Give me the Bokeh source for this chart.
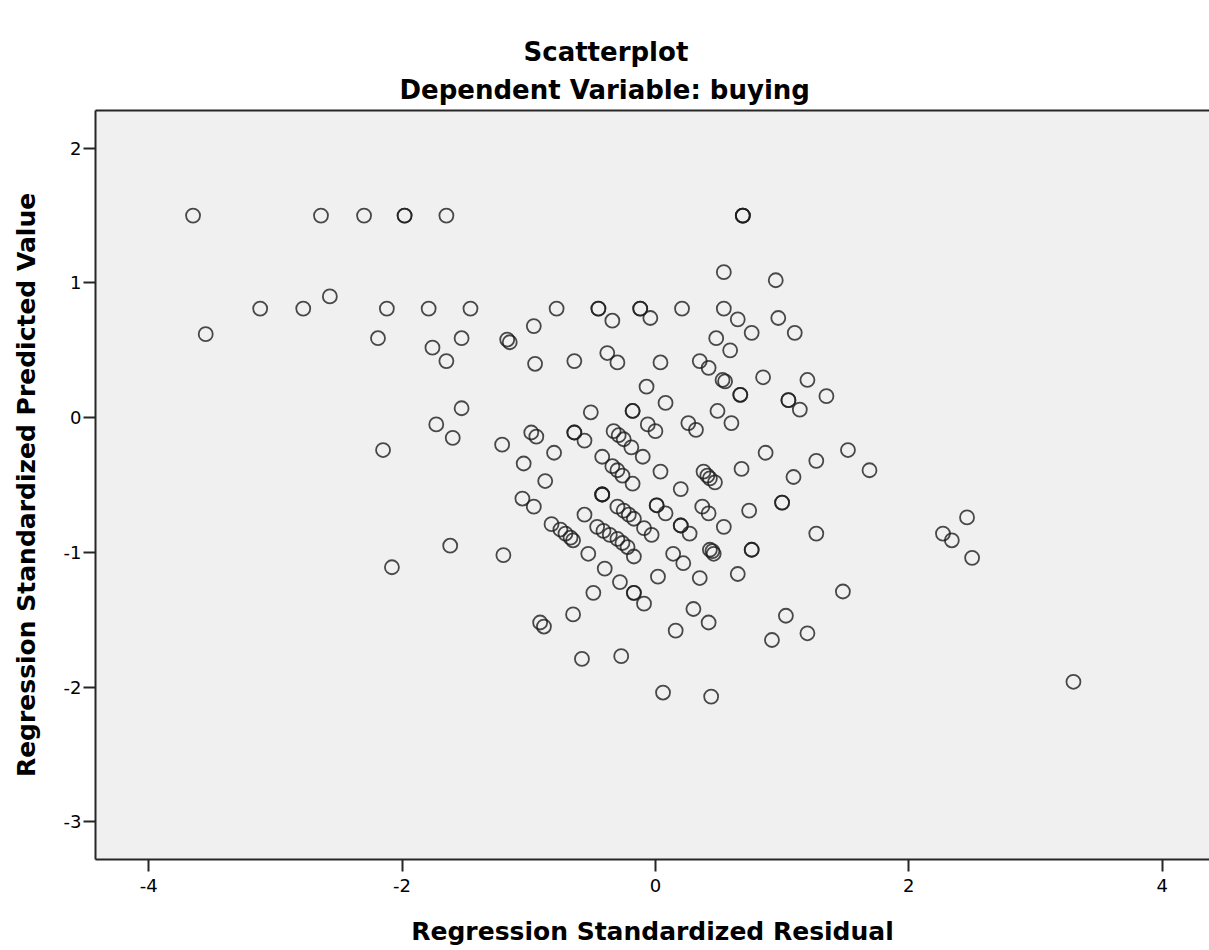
from bokeh.plotting import figure
from bokeh.models import (Range1d, FixedTicker, LinearAxis, Title, ColumnDataSource,
                          CustomJSTickFormatter)
from bokeh.embed import file_html
from bokeh.resources import INLINE

# Regression standardized residual (x) vs standardized predicted value (y)
residual = [
    -3.65, -2.64, -2.30, -1.98, -1.98, -1.65, 0.69, 0.69, 0.69,
    -2.57, -3.12, -2.78, -2.12, -1.79, -1.46, -3.55, -2.19, -1.76, -1.65, -1.53,
    -1.53, -1.73, -1.60, -2.15, -1.62, -2.08,
    0.54, 0.95, -0.78, -0.45, -0.45, -0.12, -0.12, 0.21, 0.54, -0.34, -0.04,
    -0.96, 0.65, 0.76, 0.97, 1.10, -1.17, -1.15, 0.48, 0.59, -0.95, -0.64,
    -0.38, -0.30, 0.04, 0.35, 0.42, 0.53, 0.55, 0.85, 1.20, -0.07, 0.08,
    0.67, 0.67, 1.05, 1.05, 1.14, 1.35, -0.51, -0.18, -0.18, -0.06, 0.00,
    0.26, 0.32, 0.49, 0.60, -0.98, -0.94, -0.64, -0.64, -0.56, -0.33, -0.29,
    -0.25, -0.19, -1.21,
    -0.80, -1.04, -0.87, -1.05, -0.96, -1.20, -0.82, -0.75, -0.71, -0.67, -0.65,
    -0.56, -0.53, -0.40, -0.28, -0.49, -0.17, -0.17, 0.02, -0.42, -0.10,
    -0.34, -0.30, -0.26, -0.18, 0.04, -0.42, -0.42, -0.42, -0.30, -0.25, -0.21,
    -0.17, 0.01, 0.01, 0.08, -0.46, -0.41, -0.36, -0.30, -0.26, -0.22, -0.17,
    -0.09, -0.03,
    0.87, 1.27, 1.52, 0.68, 1.09, 0.38, 0.41, 0.43, 0.47, 0.20, 0.37, 0.42,
    0.74, 1.00, 1.00, 0.20, 0.20, 0.27, 0.54, 0.43, 0.46, 0.45, 0.76, 0.76,
    0.14, 0.22, 1.27, 0.35, 0.65, 1.48,
    -0.09, 0.30, 0.42, 0.16, 1.03, 1.20, 0.92, -0.65, -0.91, -0.88, -0.58,
    -0.27, 0.06, 0.44,
    1.69, 2.46, 2.27, 2.34, 2.50, 3.30,
]
predicted = [
    1.50, 1.50, 1.50, 1.50, 1.50, 1.50, 1.50, 1.50, 1.50,
    0.90, 0.81, 0.81, 0.81, 0.81, 0.81, 0.62, 0.59, 0.52, 0.42, 0.59,
    0.07, -0.05, -0.15, -0.24, -0.95, -1.11,
    1.08, 1.02, 0.81, 0.81, 0.81, 0.81, 0.81, 0.81, 0.81, 0.72, 0.74,
    0.68, 0.73, 0.63, 0.74, 0.63, 0.58, 0.56, 0.59, 0.50, 0.40, 0.42,
    0.48, 0.41, 0.41, 0.42, 0.37, 0.28, 0.27, 0.30, 0.28, 0.23, 0.11,
    0.17, 0.17, 0.13, 0.13, 0.06, 0.16, 0.04, 0.05, 0.05, -0.05, -0.10,
    -0.04, -0.09, 0.05, -0.04, -0.11, -0.14, -0.11, -0.11, -0.17, -0.10, -0.13,
    -0.16, -0.22, -0.20,
    -0.26, -0.34, -0.47, -0.60, -0.66, -1.02, -0.79, -0.83, -0.86, -0.89, -0.91,
    -0.72, -1.01, -1.12, -1.22, -1.30, -1.30, -1.30, -1.18, -0.29, -0.29,
    -0.36, -0.39, -0.43, -0.49, -0.40, -0.57, -0.57, -0.57, -0.66, -0.69, -0.72,
    -0.75, -0.65, -0.65, -0.71, -0.81, -0.84, -0.87, -0.90, -0.93, -0.96, -1.03,
    -0.82, -0.87,
    -0.26, -0.32, -0.24, -0.38, -0.44, -0.40, -0.43, -0.45, -0.48, -0.53, -0.66, -0.71,
    -0.69, -0.63, -0.63, -0.80, -0.80, -0.86, -0.81, -0.98, -1.01, -0.99, -0.98, -0.98,
    -1.01, -1.08, -0.86, -1.19, -1.16, -1.29,
    -1.38, -1.42, -1.52, -1.58, -1.47, -1.60, -1.65, -1.46, -1.52, -1.55, -1.79,
    -1.77, -2.04, -2.07,
    -0.39, -0.74, -0.86, -0.91, -1.04, -1.96,
]

x_ticks = [-4, -2, 0, 2, 4]
y_ticks = [-3, -2, -1, 0, 1, 2]

title_main = "Scatterplot"
title_sub = "Dependent Variable: buying"
x_title = "Regression Standardized Residual"
y_title = "Regression Standardized Predicted Value"

FONT = "DejaVu Sans"
FRAME = "#262626"

p = figure(
    width=1209, height=950,
    output_backend="svg", toolbar_location=None,
    x_range=Range1d(-4.42, 4.374), y_range=Range1d(-3.279, 2.28),
    min_border_left=95, min_border_right=0,
    min_border_top=110, min_border_bottom=91,
    background_fill_color="#f0f0f0", border_fill_color="white",
    title=None,
)
p.grid.visible = False
p.outline_line_color = None

src = ColumnDataSource(dict(x=residual, y=predicted))
p.scatter("x", "y", source=src, size=14, marker="circle",
          fill_color=None, line_color="#1e1e1e", line_alpha=0.8, line_width=1.8)

# plain hyphen-minus tick labels
plain = CustomJSTickFormatter(code="return String(tick);")

for ax, ticks in ((p.xaxis[0], x_ticks), (p.yaxis[0], y_ticks)):
    ax.ticker = FixedTicker(ticks=ticks)
    ax.formatter = plain
    ax.minor_tick_line_color = None
    ax.major_tick_in = 0
    ax.major_tick_out = 12
    ax.major_tick_line_width = 2
    ax.major_tick_line_color = FRAME
    ax.axis_line_width = 2
    ax.axis_line_color = FRAME
    ax.major_label_text_font = FONT
    ax.major_label_text_font_size = "18px"
    ax.major_label_text_color = "black"
    ax.axis_label_text_font = FONT
    ax.axis_label_text_font_size = "25px"
    ax.axis_label_text_font_style = "bold"
    ax.axis_label_text_color = "black"

p.xaxis[0].axis_label = x_title
p.xaxis[0].major_label_standoff = 7
p.xaxis[0].axis_label_standoff = 22
p.yaxis[0].axis_label = y_title
p.yaxis[0].major_label_standoff = 2
p.yaxis[0].axis_label_standoff = 20

# top edge of the plot frame
top = LinearAxis(ticker=FixedTicker(ticks=[]), axis_line_width=2, axis_line_color=FRAME,
                 major_tick_line_color=None, minor_tick_line_color=None,
                 major_label_text_font_size="0px")
p.add_layout(top, "above")

p.add_layout(Title(text=title_sub, align="left", offset=304, standoff=11,
                   text_font=FONT, text_font_size="26px", text_font_style="bold",
                   text_color="black"), "above")
p.add_layout(Title(text=title_main, align="left", offset=428, standoff=2,
                   text_font=FONT, text_font_size="26px", text_font_style="bold",
                   text_color="black"), "above")

open("out.html", "w").write(file_html(p, INLINE))
